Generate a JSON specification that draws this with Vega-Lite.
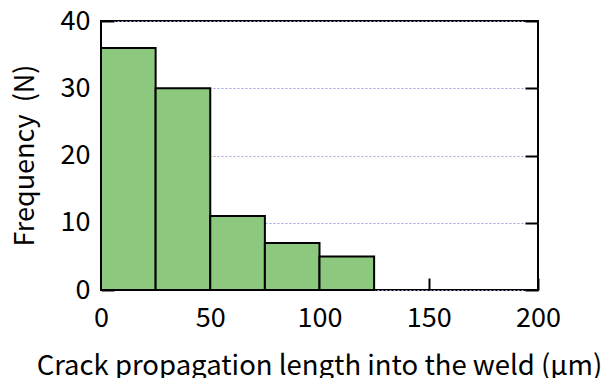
{
  "$schema": "https://vega.github.io/schema/vega-lite/v6.json",
  "autosize": "none",
  "width": 437,
  "height": 269,
  "padding": {"left": 101, "top": 21, "right": 65, "bottom": 88},
  "background": "white",
  "config": {
    "view": {"stroke": "black", "strokeWidth": 2},
    "font": "Noto Sans CJK JP"
  },
  "data": {
    "values": [
      {"start": 0, "end": 25, "count": 36},
      {"start": 25, "end": 50, "count": 30},
      {"start": 50, "end": 75, "count": 11},
      {"start": 75, "end": 100, "count": 7},
      {"start": 100, "end": 125, "count": 5}
    ]
  },
  "layer": [
    {
      "mark": {"type": "bar", "fill": "#8cc97f", "stroke": "black", "strokeWidth": 2},
      "encoding": {
        "x": {
          "field": "start", "type": "quantitative",
          "scale": {"domain": [0, 200], "nice": false},
          "axis": {
            "values": [0, 50, 100, 150, 200],
            "title": "Crack propagation length into the weld (μm)",
            "titleFont": "Noto Sans CJK JP", "titleFontSize": 27.5, "titleFontWeight": "normal", "titleColor": "black",
            "titleX": 218, "titleY": 84, "titleBaseline": "alphabetic", "titleAnchor": "middle", "titleAlign": "center",
            "labelFontSize": 27, "labelColor": "black", "labelFont": "Noto Sans CJK JP",
            "labelBaseline": "alphabetic",
            "tickSize": -12, "tickColor": "black", "tickWidth": 2,
            "labelPadding": 48, "domain": false, "grid": false, "labelFlush": false
          }
        },
        "x2": {"field": "end"},
        "y": {
          "field": "count", "type": "quantitative",
          "scale": {"domain": [0, 40], "nice": false},
          "axis": {
            "values": [0, 10, 20, 30, 40],
            "title": "Frequency\u00a0\u00a0(N)",
            "titleFont": "Noto Sans CJK JP", "titleFontSize": 27, "titleFontWeight": "normal", "titleColor": "black",
            "titleX": -68, "titleY": 134, "titleAngle": -90, "titleBaseline": "alphabetic", "titleAlign": "center",
            "labelFontSize": 27, "labelColor": "black", "labelFont": "Noto Sans CJK JP",
            "tickSize": -13, "tickColor": "black", "tickWidth": 2,
            "labelPadding": 24, "domain": false, "labelFlush": false,
            "grid": true, "gridColor": "#a0a0d8", "gridDash": [2, 2], "gridWidth": 1
          }
        },
        "y2": {"datum": 0}
      }
    },
    {
      "mark": {"type": "bar", "opacity": 0},
      "encoding": {
        "x": {"field": "start", "type": "quantitative"},
        "x2": {"field": "end"},
        "y": {
          "field": "count", "type": "quantitative",
          "axis": {
            "orient": "right", "values": [0, 10, 20, 30, 40],
            "title": null, "labels": false, "domain": false, "grid": false,
            "tickSize": -13, "tickColor": "black", "tickWidth": 2
          }
        },
        "y2": {"datum": 0}
      }
    }
  ],
  "resolve": {"axis": {"y": "independent"}}
}
